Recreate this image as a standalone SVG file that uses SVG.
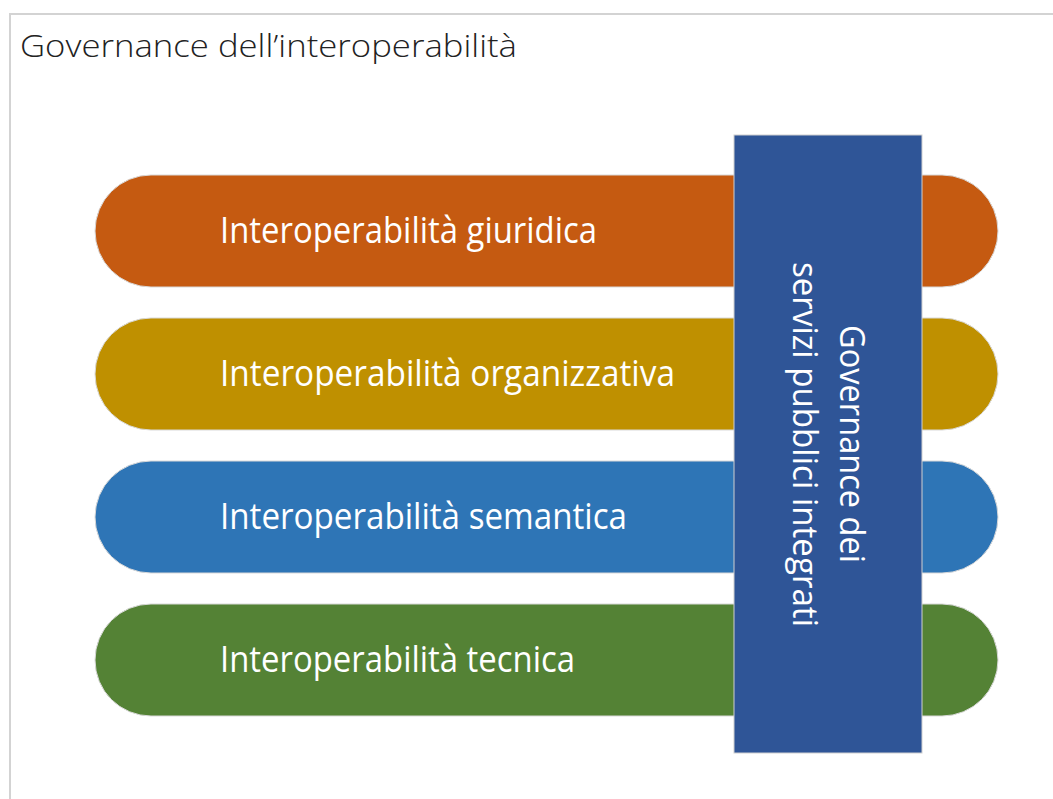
<svg xmlns="http://www.w3.org/2000/svg" width="1053" height="799" viewBox="0 0 1053 799">
<style>
.frame{fill:#fff;stroke:#d3d3d3;stroke-width:2}
.pill{stroke:#d9d9d9;stroke-width:1}
.pt{font-family:"Open Sans","Liberation Sans",sans-serif;font-size:36px;fill:#fff}
.vt{font-family:"Open Sans","Liberation Sans",sans-serif;font-size:35px;fill:#fff}
.title{font-family:"Open Sans","Liberation Sans",sans-serif;font-size:31px;font-weight:300;fill:#222}
</style>
<rect width="1053" height="799" fill="#fff"/>
<rect class="frame" x="10" y="14" width="1100" height="850"/>
<text class="title" x="20" y="57" textLength="497" lengthAdjust="spacingAndGlyphs">Governance dell’interoperabilità</text>
<g id="giuridica">
<rect class="pill" x="95" y="175" width="903" height="112" rx="56" fill="#C55A11"/>
<text class="pt" x="220" y="243" textLength="377" lengthAdjust="spacingAndGlyphs">Interoperabilità giuridica</text>
</g>
<g id="organizzativa">
<rect class="pill" x="95" y="318" width="903" height="112" rx="56" fill="#BF9000"/>
<text class="pt" x="220" y="386" textLength="455" lengthAdjust="spacingAndGlyphs">Interoperabilità organizzativa</text>
</g>
<g id="semantica">
<rect class="pill" x="95" y="461" width="903" height="112" rx="56" fill="#2E75B6"/>
<text class="pt" x="220" y="529" textLength="407" lengthAdjust="spacingAndGlyphs">Interoperabilità semantica</text>
</g>
<g id="tecnica">
<rect class="pill" x="95" y="604" width="903" height="112" rx="56" fill="#548235"/>
<text class="pt" x="220" y="672" textLength="355" lengthAdjust="spacingAndGlyphs">Interoperabilità tecnica</text>
</g>
<g id="governance">
<rect x="734" y="135" width="188" height="618" fill="#2F5597" stroke="#d0d0d0" stroke-width="1"/>
<text class="vt" transform="translate(840,325) rotate(90)" textLength="238" lengthAdjust="spacingAndGlyphs">Governance dei</text>
<text class="vt" transform="translate(793,262) rotate(90)" textLength="365" lengthAdjust="spacingAndGlyphs">servizi pubblici integrati</text>
</g>
<g id="connectors"/>
</svg>
